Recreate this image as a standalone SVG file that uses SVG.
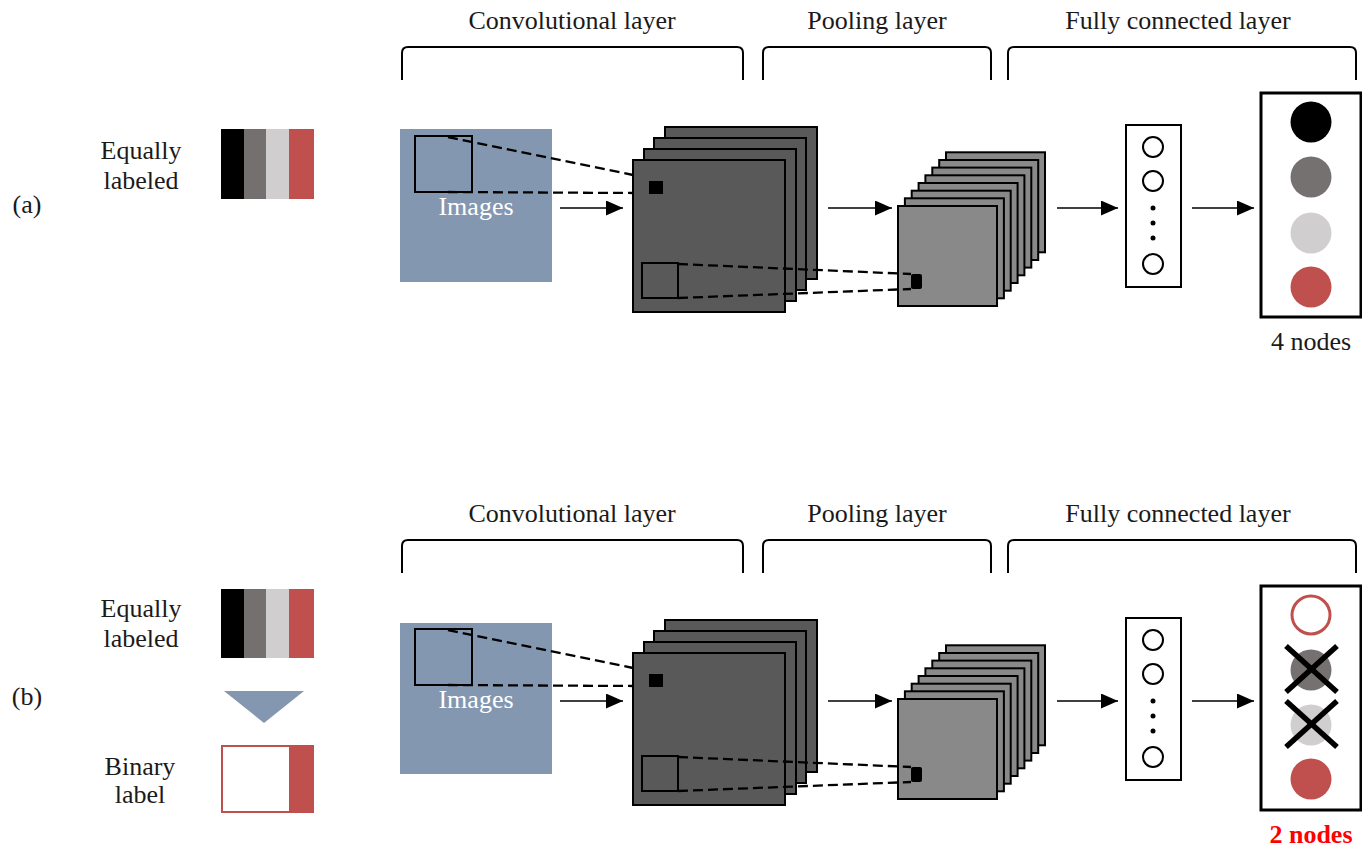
<svg xmlns="http://www.w3.org/2000/svg" width="1362" height="849" viewBox="0 0 1362 849">
<style>
text{font-family:"Liberation Serif","Times New Roman",serif;font-size:26px;fill:#1a1a1a}
.c{text-anchor:middle}
.img{fill:#8497b0}
.conv{fill:#595959;stroke:#000;stroke-width:2}
.pool{fill:#898989;stroke:#000;stroke-width:2}
.win{fill:none;stroke:#000;stroke-width:2}
.br{fill:none;stroke:#000;stroke-width:2}
.box{fill:#fff;stroke:#000;stroke-width:2}
.obox{fill:#fff;stroke:#000;stroke-width:3}
.hc{fill:#fff;stroke:#000;stroke-width:2}
.dash{fill:none;stroke:#000;stroke-width:2.3;stroke-dasharray:10,5}
.arr{fill:none;stroke:#000;stroke-width:1.5;marker-end:url(#ah)}
.x{stroke:#000;stroke-width:5.5;stroke-linecap:butt}
</style>
<defs>
<marker id="ah" markerUnits="userSpaceOnUse" markerWidth="17" markerHeight="15" refX="17" refY="7.5" orient="auto">
<path d="M0,0 L17,7.5 L0,15 z" fill="#000"/>
</marker>
</defs>
<rect width="1362" height="849" fill="#fff"/>

<!-- Panel (a) -->
<g id="a-label"><text class="c" x="27" y="213">(a)</text></g>
<g id="a-legend">
<text class="c" x="141" y="159">Equally</text>
<text class="c" x="141" y="189">labeled</text>
<rect x="221" y="129" width="23" height="70" fill="#000"/>
<rect x="244" y="129" width="22" height="70" fill="#757070"/>
<rect x="266" y="129" width="23" height="70" fill="#d0cece"/>
<rect x="289" y="129" width="25" height="70" fill="#c0504d"/>
</g>
<g id="a-headers">
<text class="c" x="572" y="29">Convolutional layer</text>
<text class="c" x="877" y="29">Pooling layer</text>
<text class="c" x="1178" y="29">Fully connected layer</text>
<path class="br" d="M402,80 L402,53 Q402,47 408,47 L737,47 Q743,47 743,53 L743,80"/>
<path class="br" d="M763,80 L763,53 Q763,47 769,47 L985,47 Q991,47 991,53 L991,80"/>
<path class="br" d="M1008,80 L1008,53 Q1008,47 1014,47 L1350,47 Q1356,47 1356,53 L1356,80"/>
</g>
<g id="a-images">
<rect class="img" x="400" y="129" width="152" height="153"/>
<rect class="win" x="415" y="136" width="57" height="56"/>
<text class="c" x="476" y="215" style="fill:#fff">Images</text>
</g>
<g id="a-conv">
<rect class="conv" x="665" y="127" width="152" height="152"/>
<rect class="conv" x="654" y="138" width="152" height="152"/>
<rect class="conv" x="644" y="149" width="152" height="152"/>
<rect class="conv" x="633" y="160" width="152" height="152"/>
<rect x="649" y="181" width="14" height="13" fill="#000"/>
<rect class="win" x="642" y="263" width="36" height="35"/>
</g>
<g id="a-pool">
<rect class="pool" x="946" y="152.3" width="99" height="100"/>
<rect class="pool" x="939.2" y="160" width="99" height="100"/>
<rect class="pool" x="932.3" y="167.6" width="99" height="100"/>
<rect class="pool" x="925.4" y="175.3" width="99" height="100"/>
<rect class="pool" x="918.6" y="183" width="99" height="100"/>
<rect class="pool" x="911.7" y="190.7" width="99" height="100"/>
<rect class="pool" x="904.9" y="198.3" width="99" height="100"/>
<rect class="pool" x="898" y="206" width="99" height="100"/>
<rect x="911" y="274" width="11" height="15" rx="2" fill="#000"/>
</g>
<g id="a-fc">
<rect class="box" x="1126" y="125" width="55" height="162"/>
<circle class="hc" cx="1153" cy="147" r="10"/>
<circle class="hc" cx="1153" cy="181" r="10"/>
<circle cx="1153" cy="208" r="2.5" fill="#000"/>
<circle cx="1153" cy="223" r="2.5" fill="#000"/>
<circle cx="1153" cy="238" r="2.5" fill="#000"/>
<circle class="hc" cx="1153" cy="264" r="10"/>
</g>
<g id="a-out">
<rect class="obox" x="1261" y="93" width="100" height="224"/>
<circle cx="1311" cy="122" r="20.5" fill="#000"/>
<circle cx="1311" cy="177" r="20.5" fill="#767171"/>
<circle cx="1311" cy="233" r="20.5" fill="#d0cece"/>
<circle cx="1311" cy="287" r="20.5" fill="#c0504d"/>
<text class="c" x="1311" y="350">4 nodes</text>
</g>

<!-- Panel (b) -->
<g id="b-label"><text class="c" x="27" y="705">(b)</text></g>
<g id="b-legend">
<text class="c" x="141" y="617">Equally</text>
<text class="c" x="141" y="647">labeled</text>
<rect x="221" y="589" width="23" height="69" fill="#000"/>
<rect x="244" y="589" width="22" height="69" fill="#757070"/>
<rect x="266" y="589" width="23" height="69" fill="#d0cece"/>
<rect x="289" y="589" width="25" height="69" fill="#c0504d"/>
<path d="M224,691 L304,691 L264,723 z" fill="#8497b0"/>
<text class="c" x="140" y="775">Binary</text>
<text class="c" x="140" y="803">label</text>
<rect x="222" y="746" width="91" height="66" fill="#fff" stroke="#c0504d" stroke-width="2"/>
<rect x="289" y="745" width="25" height="68" fill="#c0504d"/>
</g>
<g id="b-headers">
<text class="c" x="572" y="522">Convolutional layer</text>
<text class="c" x="877" y="522">Pooling layer</text>
<text class="c" x="1178" y="522">Fully connected layer</text>
<path class="br" d="M402,573 L402,546 Q402,540 408,540 L737,540 Q743,540 743,546 L743,573"/>
<path class="br" d="M763,573 L763,546 Q763,540 769,540 L985,540 Q991,540 991,546 L991,573"/>
<path class="br" d="M1008,573 L1008,546 Q1008,540 1014,540 L1350,540 Q1356,540 1356,546 L1356,573"/>
</g>
<g id="b-images">
<rect class="img" x="400" y="623" width="152" height="151"/>
<rect class="win" x="415" y="629" width="57" height="56"/>
<text class="c" x="476" y="708" style="fill:#fff">Images</text>
</g>
<g id="b-conv">
<rect class="conv" x="665" y="620" width="152" height="152"/>
<rect class="conv" x="654" y="631" width="152" height="152"/>
<rect class="conv" x="644" y="642" width="152" height="152"/>
<rect class="conv" x="633" y="653" width="152" height="152"/>
<rect x="649" y="674" width="14" height="13" fill="#000"/>
<rect class="win" x="642" y="756" width="36" height="35"/>
</g>
<g id="b-pool">
<rect class="pool" x="946" y="645.3" width="99" height="100"/>
<rect class="pool" x="939.2" y="653" width="99" height="100"/>
<rect class="pool" x="932.3" y="660.6" width="99" height="100"/>
<rect class="pool" x="925.4" y="668.3" width="99" height="100"/>
<rect class="pool" x="918.6" y="676" width="99" height="100"/>
<rect class="pool" x="911.7" y="683.7" width="99" height="100"/>
<rect class="pool" x="904.9" y="691.3" width="99" height="100"/>
<rect class="pool" x="898" y="699" width="99" height="100"/>
<rect x="911" y="767" width="11" height="15" rx="2" fill="#000"/>
</g>
<g id="b-fc">
<rect class="box" x="1126" y="618" width="55" height="162"/>
<circle class="hc" cx="1153" cy="640" r="10"/>
<circle class="hc" cx="1153" cy="674" r="10"/>
<circle cx="1153" cy="701" r="2.5" fill="#000"/>
<circle cx="1153" cy="716" r="2.5" fill="#000"/>
<circle cx="1153" cy="731" r="2.5" fill="#000"/>
<circle class="hc" cx="1153" cy="757" r="10"/>
</g>
<g id="b-out">
<rect class="obox" x="1261" y="586" width="100" height="224"/>
<circle cx="1311" cy="615" r="19" fill="#fff" stroke="#c0504d" stroke-width="3"/>
<circle cx="1311" cy="670" r="20.5" fill="#767171"/>
<circle cx="1311" cy="725" r="20.5" fill="#d0cece"/>
<circle cx="1311" cy="779" r="20.5" fill="#c0504d"/>
<line class="x" x1="1286" y1="646" x2="1337" y2="692"/>
<line class="x" x1="1337" y1="646" x2="1286" y2="692"/>
<line class="x" x1="1286" y1="701" x2="1337" y2="747"/>
<line class="x" x1="1337" y1="701" x2="1286" y2="747"/>
<text class="c" x="1311" y="843" style="fill:#ff0000;font-weight:bold">2 nodes</text>
</g>

<g id="connectors">
<line class="dash" x1="448" y1="137" x2="633" y2="175"/>
<line class="dash" x1="448" y1="192" x2="633" y2="193"/>
<line class="dash" x1="678" y1="264" x2="911" y2="274"/>
<line class="dash" x1="678" y1="298" x2="911" y2="289"/>
<line class="arr" x1="560" y1="208" x2="623" y2="208"/>
<line class="arr" x1="828" y1="208" x2="892" y2="208"/>
<line class="arr" x1="1057" y1="208" x2="1118" y2="208"/>
<line class="arr" x1="1192" y1="208" x2="1254" y2="208"/>

<line class="dash" x1="448" y1="630" x2="633" y2="668"/>
<line class="dash" x1="448" y1="685" x2="633" y2="686"/>
<line class="dash" x1="678" y1="757" x2="911" y2="767"/>
<line class="dash" x1="678" y1="791" x2="911" y2="782"/>
<line class="arr" x1="560" y1="701" x2="623" y2="701"/>
<line class="arr" x1="828" y1="701" x2="892" y2="701"/>
<line class="arr" x1="1057" y1="701" x2="1118" y2="701"/>
<line class="arr" x1="1192" y1="701" x2="1254" y2="701"/>
</g>
</svg>
